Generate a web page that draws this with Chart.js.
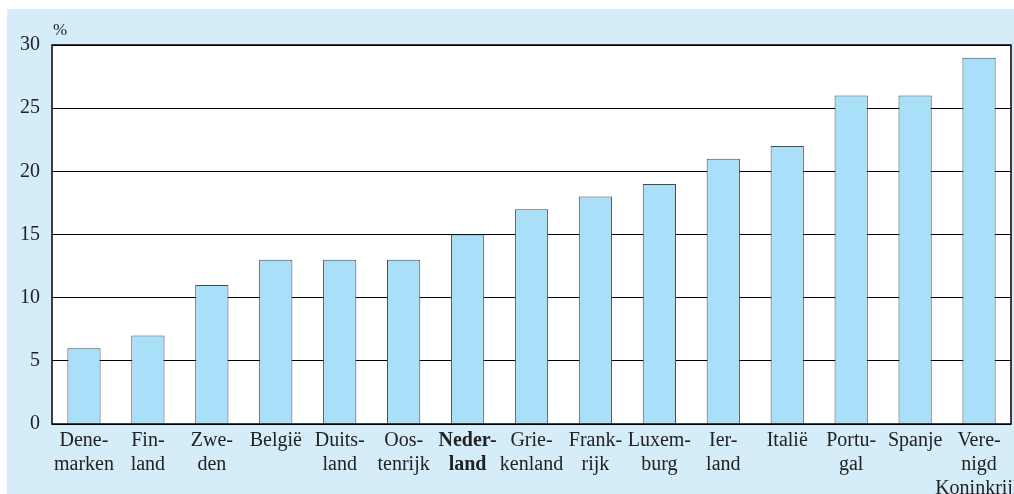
<!DOCTYPE html>
<html>
<head>
<meta charset="utf-8">
<script src="https://cdn.jsdelivr.net/npm/chart.js@4.4.0/dist/chart.umd.min.js"></script>
<style>
  html, body { margin: 0; padding: 0; background: #fff; }
  #wrap { position: absolute; left: 7px; top: 9px; width: 1007px; height: 485px; background: #d5ecf9; overflow: hidden; }
  canvas { display: block; }
</style>
</head>
<body>
<div id="wrap"><canvas id="chart" width="1007" height="485"></canvas></div>
<script>
// Landen (meerregelige labels zoals in de bron)
const countries = [
  ['Dene-', 'marken'], ['Fin-', 'land'], ['Zwe-', 'den'], ['België'], ['Duits-', 'land'],
  ['Oos-', 'tenrijk'], ['Neder-', 'land'], ['Grie-', 'kenland'], ['Frank-', 'rijk'],
  ['Luxem-', 'burg'], ['Ier-', 'land'], ['Italië'], ['Portu-', 'gal'], ['Spanje'],
  ['Vere-', 'nigd', 'Koninkrijk']
];
// Percentages per land
const values = [6, 7, 11, 13, 13, 13, 15, 17, 18, 19, 21, 22, 26, 26, 29];
const yTicks = [0, 5, 10, 15, 20, 25, 30];
const boldIndex = 6; // Nederland

const serif = '"Liberation Serif", "Times New Roman", serif';

// Witte achtergrond van het plotgebied
const bgPlugin = {
  id: 'plotBg',
  beforeDraw(chart) {
    const { ctx, chartArea: a } = chart;
    ctx.save();
    ctx.fillStyle = '#fff';
    ctx.fillRect(a.left, a.top, a.right - a.left, a.bottom - a.top);
    ctx.restore();
  }
};

// Kader rond plotgebied + "%" label
const framePlugin = {
  id: 'frame',
  afterDraw(chart) {
    const { ctx, chartArea: a } = chart;
    ctx.save();
    ctx.strokeStyle = '#000';
    ctx.lineWidth = 1.5;
    ctx.strokeRect(a.left, a.top, a.right - a.left, a.bottom - a.top);
    ctx.fillStyle = '#222';
    ctx.font = '17px ' + serif;
    ctx.textBaseline = 'middle';
    ctx.fillText('%', a.left + 1, a.top - 14);
    ctx.restore();
  }
};

new Chart(document.getElementById('chart'), {
  type: 'bar',
  data: {
    labels: countries,
    datasets: [{
      data: values,
      backgroundColor: '#aadff9',
      borderColor: '#4a4a4a',
      borderWidth: 1,
      barPercentage: 0.52,
      categoryPercentage: 1
    }]
  },
  options: {
    responsive: false,
    animation: false,
    layout: { padding: { top: 36, right: 3, left: 0, bottom: 0 } },
    plugins: { legend: { display: false }, tooltip: { enabled: false } },
    scales: {
      x: {
        grid: { display: false, drawTicks: false },
        border: { display: false },
        afterFit: s => { s.height = 70; s.paddingLeft = 0; s.paddingRight = 0; },
        ticks: {
          autoSkip: false,
          maxRotation: 0,
          minRotation: 0,
          padding: 5,
          color: '#222',
          font: ctx => ({ family: serif, size: 20, lineHeight: 1.2, weight: ctx.index === boldIndex ? 'bold' : 'normal' })
        }
      },
      y: {
        min: 0,
        max: 30,
        afterFit: s => { s.width = 45; },
        afterBuildTicks: s => { s.ticks = yTicks.map(v => ({ value: v })); },
        grid: { color: '#000', lineWidth: 1, drawTicks: false },
        border: { display: false },
        ticks: {
          padding: 12,
          color: '#222',
          font: { family: serif, size: 20 }
        }
      }
    }
  },
  plugins: [bgPlugin, framePlugin]
});
</script>
</body>
</html>
